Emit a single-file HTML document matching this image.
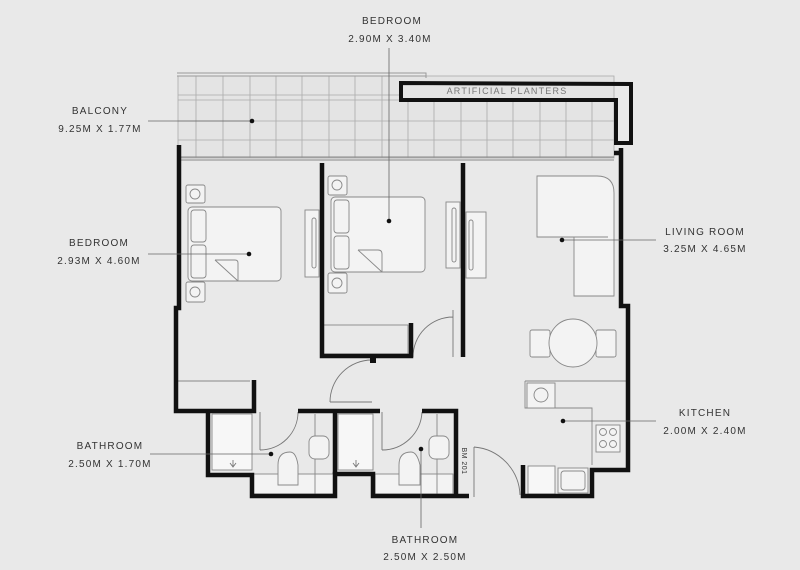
<!DOCTYPE html>
<html><head><meta charset="utf-8"><style>
html,body{margin:0;padding:0;background:#e9e9e9;}
svg{display:block}
text{font-family:"Liberation Sans",sans-serif;font-size:10px;letter-spacing:1.2px;fill:#333;text-anchor:middle}
</style></head><body>
<svg width="800" height="570" viewBox="0 0 800 570" xmlns="http://www.w3.org/2000/svg">
<rect width="800" height="570" fill="#e9e9e9"/>
<!-- balcony tiles -->
<g stroke="#aaa" stroke-width="0.8" fill="none">
<rect x="178" y="76" width="436" height="82" fill="#e4e4e4"/>
<path d="M178 95H400M178 121H614M178 140H614M178 100H614"/>
<path d="M196 76V158M223 76V158M250 76V158M276 76V158M302 76V158M329 76V158M355 76V158M382 76V158M408 100V158M434 100V158M461 100V158M487 100V158M513 100V158M540 100V158M566 100V158M592 100V158"/>
</g>
<path d="M177 73H426V78M177 76H426" stroke="#999" stroke-width="1" fill="none"/>
<path d="M178 157H614M178 160H614" stroke="#888" stroke-width="1"/>
<!-- planters -->
<path d="M401 83L631 84V143H616V100H401Z" fill="none" stroke="#111" stroke-width="4"/>
<text x="507" y="94" style="font-size:9px;fill:#777">ARTIFICIAL PLANTERS</text>
<!-- furniture -->
<g stroke="#888" stroke-width="0.9" fill="#f3f3f3">
<rect x="186" y="185" width="19" height="18" rx="2"/><circle cx="195" cy="194" r="5"/>
<rect x="186" y="282" width="19" height="20" rx="2"/><circle cx="195" cy="292" r="5"/>
<rect x="188" y="207" width="93" height="74" rx="4"/>
<rect x="191" y="210" width="15" height="32" rx="3"/><rect x="191" y="245" width="15" height="33" rx="3"/>
<path d="M215 260L238 281M215 260H235Q238 260 238 263V281" fill="none"/>
<rect x="328" y="176" width="19" height="19" rx="2"/><circle cx="337" cy="185" r="5"/>
<rect x="328" y="273" width="19" height="20" rx="2"/><circle cx="337" cy="283" r="5"/>
<rect x="331" y="197" width="94" height="75" rx="4"/>
<rect x="334" y="200" width="15" height="33" rx="3"/><rect x="334" y="236" width="15" height="33" rx="3"/>
<path d="M358 250L382 272M358 250H378Q382 250 382 254V272" fill="none"/>
<rect x="305" y="210" width="14" height="67"/><rect x="312" y="218" width="4" height="50" rx="2"/>
<rect x="446" y="202" width="14" height="66"/><rect x="452" y="208" width="4" height="54" rx="2"/>
<rect x="466" y="212" width="20" height="66"/><rect x="469" y="220" width="4" height="50" rx="2"/>
<path d="M537 176H597Q614 176 614 193V296H574V237H537Z"/>
<path d="M574 237H608" fill="none"/>
<rect x="530" y="330" width="20" height="27" rx="2"/><rect x="596" y="330" width="20" height="27" rx="2"/>
<circle cx="573" cy="343" r="24"/>
<path d="M525 381H628" fill="none"/>
<path d="M525 381V408H592V465" fill="none"/>
<rect x="527" y="383" width="28" height="25"/><circle cx="541" cy="395" r="7"/>
<rect x="596" y="425" width="24" height="27"/>
<circle cx="603" cy="432" r="3.5"/><circle cx="613" cy="432" r="3.5"/><circle cx="603" cy="444" r="3.5"/><circle cx="613" cy="444" r="3.5"/>
<rect x="528" y="466" width="27" height="28" fill="#f7f7f7"/>
<rect x="558" y="468" width="30" height="25"/><rect x="561" y="471" width="24" height="19" rx="3"/>
<path d="M178 381H250" fill="none"/>
<rect x="323" y="325" width="85" height="29" fill="none"/>
<!-- bathrooms -->
<rect x="212" y="414" width="40" height="56" fill="#f7f7f7"/>
<rect x="338" y="414" width="35" height="56" fill="#f7f7f7"/>
<rect x="253" y="474" width="81" height="20"/>
<rect x="375" y="474" width="78" height="20"/>
<path d="M315 414V495M437 414V495" fill="none"/>
<path d="M278 485V465Q278 452 290 452Q296 452 298 465V485Z"/>
<path d="M399 485V465Q399 452 411 452Q417 452 420 465V485Z"/>
<rect x="309" y="436" width="20" height="23" rx="6"/>
<rect x="429" y="436" width="20" height="23" rx="6"/>
</g>
<g stroke="#777" stroke-width="0.9" fill="none">
<path d="M233 460V466M230 463L233 467L236 463M356 460V466M353 463L356 467L359 463"/>
<!-- doors -->
<path d="M260 412V450M260 450A38 38 0 0 0 298 412"/>
<path d="M382 412V450M382 450A40 40 0 0 0 422 412"/>
<path d="M330 402H372M330 402A42 42 0 0 1 372 360"/>
<path d="M453 310V357M413 357A40 40 0 0 1 453 317"/>
<path d="M474 447V497M474 447A50 50 0 0 1 520 495"/>
</g>
<!-- walls -->
<g stroke="#111" stroke-width="4.5" fill="none" stroke-linejoin="miter">
<path d="M179 145V308H176V411H254V380"/>
<path d="M208 411V475H252V496H335V474H373V496H469"/>
<path d="M298 411H380M422 411H456V496"/>
<path d="M335 411V474"/>
<path d="M322 163V356H411V323"/>
<path d="M463 163V357"/>
<path d="M621 148V306H628V470H592V496H523V465"/>
<path d="M614 153H621"/>
</g>
<rect x="370" y="356" width="6" height="7" fill="#111"/>
<text x="462" y="461" transform="rotate(90 462 461)" style="font-size:7px;letter-spacing:0.5px">BM 201</text>
<!-- leaders -->
<g stroke="#666" stroke-width="0.8">
<path d="M389 48V221M148 121H252M148 254H249M562 240H656M563 421H656M150 454H271M421 449V528"/>
</g>
<g fill="#111">
<circle cx="389" cy="221" r="2.3"/><circle cx="252" cy="121" r="2.3"/><circle cx="249" cy="254" r="2.3"/>
<circle cx="562" cy="240" r="2.3"/><circle cx="563" cy="421" r="2.3"/><circle cx="271" cy="454" r="2.3"/><circle cx="421" cy="449" r="2.3"/>
</g>
<text x="392" y="24">BEDROOM</text><text x="390" y="42">2.90M X 3.40M</text>
<text x="100" y="114">BALCONY</text><text x="100" y="132">9.25M X 1.77M</text>
<text x="99" y="246">BEDROOM</text><text x="99" y="264">2.93M X 4.60M</text>
<text x="705" y="235">LIVING ROOM</text><text x="705" y="252">3.25M X 4.65M</text>
<text x="705" y="416">KITCHEN</text><text x="705" y="434">2.00M X 2.40M</text>
<text x="110" y="449">BATHROOM</text><text x="110" y="467">2.50M X 1.70M</text>
<text x="425" y="543">BATHROOM</text><text x="425" y="560">2.50M X 2.50M</text>
</svg>
</body></html>
